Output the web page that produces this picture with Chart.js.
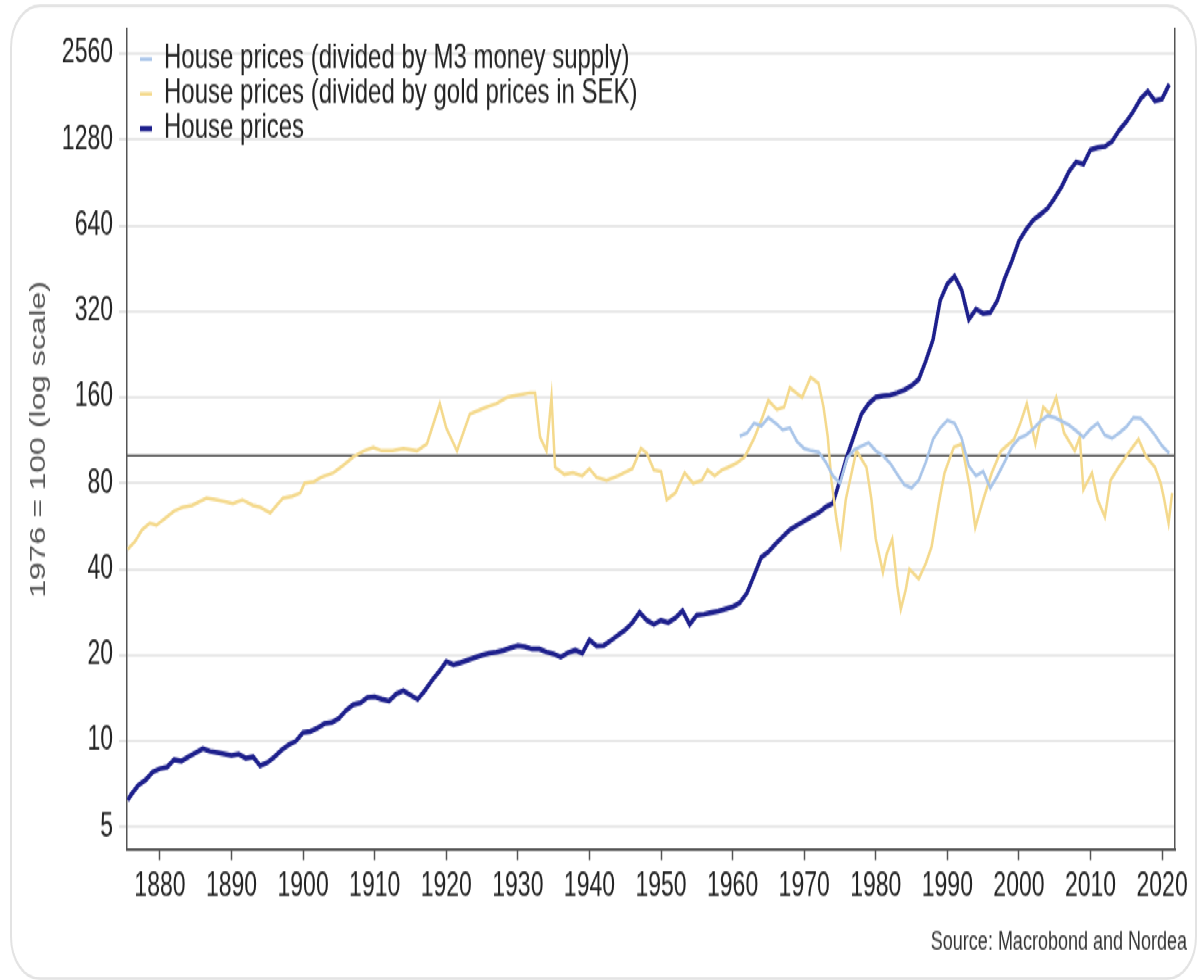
<!DOCTYPE html>
<html>
<head>
<meta charset="utf-8">
<script src="https://cdn.jsdelivr.net/npm/chart.js@4.4.1/dist/chart.umd.min.js"></script>
<style>
    body { margin: 0; background: #fff; overflow: hidden; }
    #stage { position: absolute; left: 0; top: 0; width: 1201px; height: 676px; transform: scaleY(1.45); transform-origin: 0 0; }
    #card { position: absolute; left: 10px; top: 3px; width: 1183px; height: 669px; border: 2px solid #e3e3e3; border-radius: 30px; }
    #chartCanvas { position: absolute; left: 0; top: 0; }
</style>
</head>
<body>
<div id="stage">
    <div id="card"></div>
    <canvas id="chartCanvas" width="1201" height="676"></canvas>
</div>
<script>
let seriesLabels = ['House prices (divided by M3 money supply)', 'House prices (divided by gold prices in SEK)', 'House prices'];
let yTickValues = [5, 10, 20, 40, 80, 160, 320, 640, 1280, 2560];
let xTickValues = [1880, 1890, 1900, 1910, 1920, 1930, 1940, 1950, 1960, 1970, 1980, 1990, 2000, 2010, 2020];

let houseYears = [1875.5, 1876, 1877, 1878, 1879, 1880, 1881, 1882, 1883, 1884, 1885, 1886, 1887, 1888, 1889,
    1890, 1891, 1892, 1893, 1894, 1895, 1896, 1897, 1898, 1899, 1900, 1901, 1902, 1903, 1904, 1905, 1906, 1907, 1908, 1909,
    1910, 1911, 1912, 1913, 1914, 1915, 1916, 1917, 1918, 1919, 1920, 1921, 1922, 1923, 1924, 1925, 1926, 1927, 1928, 1929,
    1930, 1931, 1932, 1933, 1934, 1935, 1936, 1937, 1938, 1939, 1940, 1941, 1942, 1943, 1944, 1945, 1946, 1947, 1948, 1949,
    1950, 1951, 1952, 1953, 1954, 1955, 1956, 1957, 1958, 1959, 1960, 1961, 1962, 1963, 1964, 1965, 1966, 1967, 1968, 1969,
    1970, 1971, 1972, 1973, 1974, 1975, 1976, 1977, 1978, 1979, 1980, 1981, 1982, 1983, 1984, 1985, 1986, 1987, 1988, 1989,
    1990, 1991, 1992, 1993, 1994, 1995, 1996, 1997, 1998, 1999, 2000, 2001, 2002, 2003, 2004, 2005, 2006, 2007, 2008, 2009,
    2010, 2011, 2012, 2013, 2014, 2015, 2016, 2017, 2018, 2019, 2020, 2021];
let houseValues = [6.2, 6.5, 7.0, 7.3, 7.8, 8.0, 8.1, 8.6, 8.5, 8.8, 9.1, 9.4, 9.2, 9.1, 9.0,
    8.9, 9.0, 8.7, 8.8, 8.2, 8.4, 8.8, 9.3, 9.7, 10.0, 10.7, 10.8, 11.1, 11.5, 11.6, 12.0, 12.8, 13.4, 13.6, 14.2,
    14.3, 14.0, 13.8, 14.6, 15.0, 14.5, 14.0, 15.0, 16.3, 17.5, 19.0, 18.5, 18.8, 19.2, 19.6, 20.0, 20.3, 20.5, 20.8, 21.2,
    21.6, 21.4, 21.0, 21.0, 20.5, 20.2, 19.7, 20.4, 20.8, 20.3, 22.6, 21.5, 21.6, 22.5, 23.5, 24.5, 26.0, 28.2, 26.5, 25.6,
    26.5, 26.0, 27.0, 28.6, 25.6, 27.6, 27.8, 28.2, 28.5, 29.0, 29.5, 30.5, 33, 38, 44, 46, 49, 52, 55, 57,
    59, 61, 63, 66, 68, 82, 100, 118, 140, 152, 160, 162, 163, 166, 170, 176, 185, 215, 255, 350,
    400, 425, 380, 300, 326, 315, 317, 350, 417, 480, 565, 620, 670, 700, 735, 800, 880, 990, 1070, 1050,
    1180, 1200, 1210, 1260, 1380, 1480, 1610, 1780, 1890, 1750, 1780, 2000];

let m3Years = [1961, 1962, 1963, 1964, 1965, 1966, 1967, 1968, 1969, 1970, 1971, 1972, 1973, 1974, 1975, 1976, 1977, 1978, 1979,
    1980, 1981, 1982, 1983, 1984, 1985, 1986, 1987, 1988, 1989, 1990, 1991, 1992, 1993, 1994, 1995, 1996, 1997, 1998, 1999,
    2000, 2001, 2002, 2003, 2004, 2005, 2006, 2007, 2008, 2009, 2010, 2011, 2012, 2013, 2014, 2015, 2016, 2017, 2018, 2019,
    2020, 2021];
let m3Values = [117, 120, 130, 127, 136, 130, 123, 125, 112, 106, 104, 103, 95, 85, 80, 98, 105, 108, 111,
    104, 100, 94, 86, 79, 77, 82, 95, 114, 125, 133, 130, 115, 92, 85, 88, 77, 85, 95, 107,
    115, 118, 124, 132, 138, 136, 132, 128, 122, 116, 124, 130, 118, 115, 120, 126, 136, 135, 127, 118,
    108, 102];

let goldYears = [1875.5, 1876.5, 1877.5, 1878.6, 1879.5, 1881, 1882, 1883.2, 1884.5, 1886.5, 1888, 1890.2, 1891.5, 1893, 1894,
    1895.4, 1896.3, 1897.2, 1898.5, 1899.6, 1900.2, 1901.5, 1902.5, 1904.2, 1905.5, 1907, 1908.5, 1909.8, 1911, 1912.5,
    1914, 1915.9, 1917.3, 1919.1, 1920, 1921.5, 1923.3, 1925.6, 1927, 1928.5, 1930, 1931.7, 1932.4, 1933.1, 1934,
    1934.7, 1935.2, 1936.5, 1937.7, 1939, 1940, 1941, 1942.4, 1944, 1946, 1947.2, 1948, 1949, 1950, 1950.8,
    1952, 1953.3, 1954.5, 1955.7, 1956.5, 1957.5, 1958.5, 1959.4, 1960.5, 1961.7, 1963, 1964.2, 1965, 1966.2, 1967.2,
    1968, 1969, 1969.7, 1970.9, 1972, 1972.7, 1973.3, 1973.8, 1974.5, 1975.1, 1975.8, 1976.4, 1977.3, 1978.7, 1979.4,
    1980, 1981, 1981.5, 1982.3, 1983, 1983.5, 1984.2, 1984.7, 1986, 1987, 1987.8, 1988.8, 1989.6, 1990.9, 1992,
    1993.2, 1993.9, 1995, 1996.2, 1997.5, 1999.3, 2000.2, 2001.1, 2002.3, 2003.4, 2004.3, 2005.2, 2006.3, 2007.8, 2008.5,
    2009, 2010.2, 2011, 2012, 2012.8, 2013.8, 2015.5, 2016.7, 2017.8, 2019, 2019.8, 2020.3, 2020.9, 2021.4];
let goldValues = [47, 50, 55, 58, 57, 61, 64, 66, 67, 71, 70, 68, 70, 67, 66,
    63, 67, 71, 72, 74, 80, 81, 84, 87, 92, 99, 104, 107, 104, 104,
    106, 104, 110, 152, 125, 104, 140, 148, 152, 160, 163, 166, 166, 116, 104,
    160, 91, 86, 87, 85, 90, 84, 82, 85, 90, 106, 102, 89, 88, 70,
    74, 87, 80, 82, 89, 85, 89, 91, 94, 99, 115, 137, 156, 145, 148,
    173, 165, 160, 188, 179, 148, 116, 82, 60, 49, 70, 82, 104, 91, 70,
    51, 39, 45, 51, 35, 29, 34, 40, 37, 42, 48, 68, 87, 107, 110,
    76, 56, 70, 87, 104, 114, 130, 152, 110, 148, 140, 160, 120, 104, 116,
    76, 87, 70, 61, 82, 90, 104, 114, 99, 91, 80, 70, 58, 74];

let seriesColors = ['#a9c5e9', '#f4d98c', '#1d1f8c'];
let baseValue = 100;
let sourceText = 'Source: Macrobond and Nordea';

function toPoints(xs, ys) {
    return xs.map(function (x, i) { return {x: x, y: ys[i]}; });
}

// baseline at 1976 = 100, drawn under the series
let baseLinePlugin = {
    id: 'baseLine',
    beforeDatasetsDraw: function (chart) {
        let ctx = chart.ctx;
        let y = chart.scales.y.getPixelForValue(baseValue);
        ctx.save();
        ctx.strokeStyle = '#555';
        ctx.lineWidth = 1.6;
        ctx.beginPath();
        ctx.moveTo(chart.chartArea.left, y);
        ctx.lineTo(chart.chartArea.right, y);
        ctx.stroke();
        ctx.restore();
    }
};

let sourcePlugin = {
    id: 'sourceNote',
    afterDraw: function (chart) {
        let ctx = chart.ctx;
        ctx.save();
        ctx.font = '18px "Liberation Sans", Arial, sans-serif';
        ctx.fillStyle = '#333';
        ctx.textAlign = 'right';
        ctx.textBaseline = 'middle';
        ctx.fillText(sourceText, chart.chartArea.right + 12, 650);
        ctx.restore();
    }
};

// legend sits inside the plot, a little in from the top-left corner
let legendShift = {
    id: 'legendShift',
    afterLayout: function (chart) {
        chart.legend.left = chart.chartArea.left + 13;
        chart.legend.top = chart.chartArea.top + 9;
    }
};

Chart.defaults.font.family = '"Liberation Sans", Arial, sans-serif';
Chart.defaults.color = '#222';

let canvas = document.getElementById('chartCanvas');
let chart = new Chart(canvas, {
    type: 'line',
    data: {
        datasets: [{
            label: seriesLabels[0],
            data: toPoints(m3Years, m3Values),
            borderColor: seriesColors[0],
            backgroundColor: seriesColors[0],
            borderWidth: 2.5
        }, {
            label: seriesLabels[1],
            data: toPoints(goldYears, goldValues),
            borderColor: seriesColors[1],
            backgroundColor: seriesColors[1],
            borderWidth: 2.5
        }, {
            label: seriesLabels[2],
            data: toPoints(houseYears, houseValues),
            borderColor: seriesColors[2],
            backgroundColor: seriesColors[2],
            borderWidth: 3.5
        }]
    },
    options: {
        responsive: false,
        animation: false,
        devicePixelRatio: 1,
        elements: {
            point: {radius: 0},
            line: {tension: 0, fill: false}
        },
        layout: {padding: {left: 26, right: 26, top: 18.6, bottom: 0}},
        plugins: {
            legend: {
                position: 'chartArea',
                align: 'start',
                labels: {
                    usePointStyle: true,
                    pointStyle: 'line',
                    pointStyleWidth: 12,
                    padding: 0,
                    font: {size: 24},
                    color: '#222'
                }
            },
            tooltip: {enabled: false}
        },
        scales: {
            x: {
                type: 'linear',
                min: 1875.4,
                max: 2021.8,
                afterBuildTicks: function (scale) {
                    scale.ticks = xTickValues.map(function (v) { return {value: v}; });
                },
                afterFit: function (scale) { scale.height = 676 - 586.2; },
                ticks: {
                    autoSkip: false,
                    maxRotation: 0,
                    padding: 5,
                    font: {size: 23},
                    color: '#222',
                    callback: function (v) { return String(v); }
                },
                grid: {drawOnChartArea: false, drawTicks: true, tickLength: 7, tickColor: '#555', tickWidth: 1.5},
                border: {color: '#555', width: 2}
            },
            y: {
                type: 'logarithmic',
                min: 4.15,
                max: 3132,
                afterBuildTicks: function (scale) {
                    scale.ticks = yTickValues.map(function (v) { return {value: v}; });
                },
                afterFit: function (scale) { scale.width = 101; },
                ticks: {
                    padding: 6,
                    font: {size: 23},
                    color: '#222',
                    callback: function (v) { return String(v); }
                },
                title: {
                    display: true,
                    text: '1976 = 100 (log scale)',
                    font: {size: 22},
                    color: '#555',
                    padding: {top: 0, bottom: 0}
                },
                grid: {color: '#e8e8e8', lineWidth: 2, tickLength: 8, tickColor: '#c8c8c8', tickWidth: 1},
                border: {color: '#555', width: 1.5}
            },
            y2: {
                type: 'linear',
                position: 'right',
                afterFit: function (scale) { scale.width = 0; },
                ticks: {display: false},
                grid: {drawOnChartArea: false, drawTicks: false},
                border: {color: '#555', width: 1.5}
            }
        }
    },
    plugins: [baseLinePlugin, sourcePlugin, legendShift]
});
</script>
</body>
</html>
